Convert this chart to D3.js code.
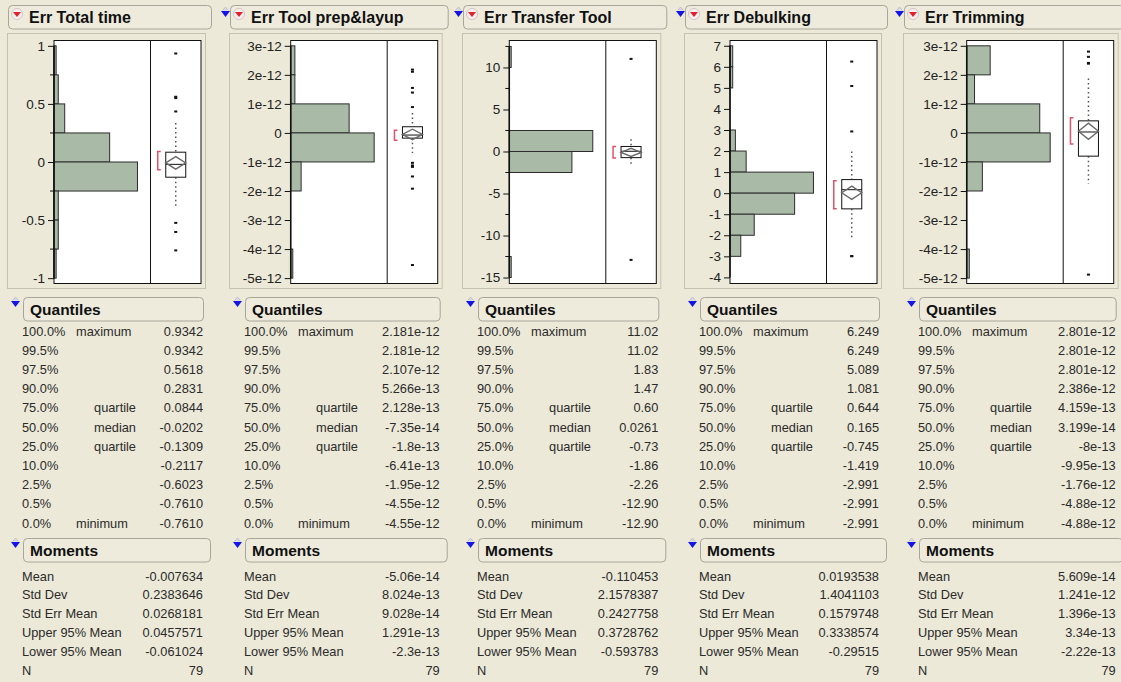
<!DOCTYPE html>
<html>
<head>
<meta charset="utf-8">
<script src="https://cdn.jsdelivr.net/npm/d3@7"></script>
<style>
  body { margin: 0; background: #ECE9D8; }
  svg { display: block; font-family: "Liberation Sans", Arial, sans-serif; }
  .tick text { font-size: 13.5px; fill: #222; }
  .tick line { stroke: #111; }
  .row { font-size: 12.8px; fill: #2b2b2b; }
  .ttl { font-size: 16px; font-weight: bold; fill: #111; }
  .hdr { font-size: 15.5px; font-weight: bold; fill: #111; }
</style>
</head>
<body>
<div id="chart"></div>
<script>
// ---- data ----
var titles = ["Err Total time", "Err Tool prep&layup", "Err Transfer Tool", "Err Debulking", "Err Trimming"];

var quantPct = ["100.0%", "99.5%", "97.5%", "90.0%", "75.0%", "50.0%", "25.0%", "10.0%", "2.5%", "0.5%", "0.0%"];
var quantName = ["maximum", "", "", "", "quartile", "median", "quartile", "", "", "", "minimum"];
var quantVals = [
  ["0.9342", "0.9342", "0.5618", "0.2831", "0.0844", "-0.0202", "-0.1309", "-0.2117", "-0.6023", "-0.7610", "-0.7610"],
  ["2.181e-12", "2.181e-12", "2.107e-12", "5.266e-13", "2.128e-13", "-7.35e-14", "-1.8e-13", "-6.41e-13", "-1.95e-12", "-4.55e-12", "-4.55e-12"],
  ["11.02", "11.02", "1.83", "1.47", "0.60", "0.0261", "-0.73", "-1.86", "-2.26", "-12.90", "-12.90"],
  ["6.249", "6.249", "5.089", "1.081", "0.644", "0.165", "-0.745", "-1.419", "-2.991", "-2.991", "-2.991"],
  ["2.801e-12", "2.801e-12", "2.801e-12", "2.386e-12", "4.159e-13", "3.199e-14", "-8e-13", "-9.95e-13", "-1.76e-12", "-4.88e-12", "-4.88e-12"]
];

var momentNames = ["Mean", "Std Dev", "Std Err Mean", "Upper 95% Mean", "Lower 95% Mean", "N"];
var momentVals = [
  ["-0.007634", "0.2383646", "0.0268181", "0.0457571", "-0.061024", "79"],
  ["-5.06e-14", "8.024e-13", "9.028e-14", "1.291e-13", "-2.3e-13", "79"],
  ["-0.110453", "2.1578387", "0.2427758", "0.3728762", "-0.593783", "79"],
  ["0.0193538", "1.4041103", "0.1579748", "0.3338574", "-0.29515", "79"],
  ["5.609e-14", "1.241e-12", "1.396e-13", "3.34e-13", "-2.22e-13", "79"]
];

// histogram: top edge of first bin, bin width, counts going downward
var binTop = [1, 3e-12, 12.5, 7, 3e-12];
var binWidth = [0.25, 1e-12, 2.5, 1, 1e-12];
var binCounts = [
  [1, 2, 5, 26, 39, 2, 2, 1],
  [2, 2, 28, 40, 5, 0, 0, 1],
  [1, 0, 0, 0, 44, 33, 0, 0, 0, 0, 1],
  [1, 1, 0, 0, 2, 6, 31, 24, 9, 4],
  [9, 3, 28, 32, 6, 0, 0, 1]
];

// outlier box plot pieces
var whiskers = [[0.335, -0.383], [0.685e-12, -0.69e-12], [1.47, -1.70], [1.98, -2.13], [1.87e-12, -1.75e-12]];
var shortHalf = [[0.09, -0.067], [0.09e-12, -0.25e-12], [0.6, -0.78], [0.59, -0.74], [0.52e-12, -0.38e-12]];
var outliers = [
  [0.9342, 0.5618, 0.55, 0.435, -0.524, -0.6023, -0.761],
  [2.181e-12, 2.107e-12, 1.55e-12, 1.39e-12, 0.89e-12, -1.03e-12, -1.12e-12, -1.17e-12, -1.5e-12, -1.92e-12, -4.55e-12],
  [11.02, -12.90],
  [6.249, 5.089, 2.93, -2.991, -2.991],
  [2.801e-12, 2.62e-12, 2.41e-12, 2.386e-12, -4.88e-12]
];

// axes
var yDomain = [[-1.046, 1.046], [-5.186e-12, 3.183e-12], [-15.71, 13.21], [-4.29, 7.25], [-5.186e-12, 3.183e-12]];
var yTicks = [
  [-1, -0.5, 0, 0.5, 1],
  [-5e-12, -4e-12, -3e-12, -2e-12, -1e-12, 0, 1e-12, 2e-12, 3e-12],
  [-15, -10, -5, 0, 5, 10],
  [-4, -3, -2, -1, 0, 1, 2, 3, 4, 5, 6, 7],
  [-5e-12, -4e-12, -3e-12, -2e-12, -1e-12, 0, 1e-12, 2e-12, 3e-12]
];
var yMinor = [[-0.75, -0.25, 0.25, 0.75], [], [-12.5, -7.5, -2.5, 2.5, 7.5, 12.5], [], []];

// ---- layout ----
var W = 1121, H = 682;
var colX = [8, 230, 463, 685, 904];
var axisGap = [46, 60.7, 46.3, 45, 62.7];
var plotW = 147, histW = 96.5;
var plotTop = 40.5, plotBottom = 283.5;

var svg = d3.select("#chart").append("svg").attr("width", W).attr("height", H);
svg.append("rect").attr("width", W).attr("height", H).attr("fill", "#ECE9D8");

function fmtTick(i) {
  if (i == 1 || i == 4) {
    return function (d) { return d === 0 ? "0" : Math.round(d * 1e12) + "e-12"; };
  }
  return function (d) { return String(+d.toFixed(4)); };
}

// blue disclosure triangle
function blueTri(g, x, y) {
  g.append("path")
    .attr("d", `M${x},${y} L${x + 9},${y} L${x + 4.5},${y + 6} Z`)
    .attr("fill", "#1414E6");
  g.append("path")
    .attr("d", `M${x + 1.5},${y - 0.5} L${x + 4.5},${y - 4} L${x + 7.5},${y - 0.5}`)
    .attr("fill", "#d6d6e6").attr("stroke", "#b0b0c0").attr("stroke-width", 0.6);
}

function headerBox(g, x, y, w) {
  g.append("rect").attr("x", x).attr("y", y).attr("width", w).attr("height", 23.5)
    .attr("rx", 4).attr("fill", "#EEEBDD").attr("stroke", "#A8A699");
}

titles.forEach(function (title, i) {
  var x0 = colX[i];
  var plotL = x0 + axisGap[i];
  var plotR = plotL + plotW;
  var divX = plotL + histW;
  var g = svg.append("g");

  // title bar
  if (i > 0) blueTri(g, x0 - 9, 11);
  headerBox(g, x0 + 0.5, 5.5, plotR + 10 - x0);
  g.append("circle").attr("cx", x0 + 9).attr("cy", 14).attr("r", 5.5)
    .attr("fill", "#F7EFEF").attr("stroke", "#C9B9B9").attr("stroke-width", 0.8);
  g.append("path").attr("d", `M${x0 + 5},12 L${x0 + 13},12 L${x0 + 9},17 Z`).attr("fill", "#E3202C");
  g.append("text").attr("class", "ttl").attr("x", x0 + 21).attr("y", 23).text(title);

  // frame + plot background
  g.append("rect").attr("x", x0 - 0.5).attr("y", 33.5).attr("width", plotR + 5 - x0).attr("height", 255)
    .attr("fill", "#ECE9D8").attr("stroke", "#C6C2AF");
  g.append("rect").attr("x", plotL).attr("y", plotTop).attr("width", plotW).attr("height", plotBottom - plotTop)
    .attr("fill", "#fff");

  var y = d3.scaleLinear().domain(yDomain[i]).range([plotBottom, plotTop]);
  var counts = binCounts[i];
  var xc = d3.scaleLinear().domain([0, d3.max(counts) / 0.865]).range([0, histW]);

  // histogram bars
  var bins = counts.map(function (c, k) {
    var hi = binTop[i] - k * binWidth[i];
    return { hi: hi, lo: hi - binWidth[i], n: c };
  }).filter(d => d.n > 0);

  g.selectAll(".bar").data(bins).enter().append("rect")
    .attr("x", plotL)
    .attr("y", d => y(d.hi))
    .attr("width", d => xc(d.n))
    .attr("height", d => y(d.lo) - y(d.hi))
    .attr("fill", "#A9BBA7").attr("stroke", "#2c2c2c").attr("stroke-width", 1);

  // plot border and divider
  g.append("rect").attr("x", plotL).attr("y", plotTop).attr("width", plotW).attr("height", plotBottom - plotTop)
    .attr("fill", "none").attr("stroke", "#111");
  g.append("line").attr("x1", divX).attr("x2", divX).attr("y1", plotTop).attr("y2", plotBottom).attr("stroke", "#111");

  // axis
  var axis = d3.axisLeft(y).tickValues(yTicks[i]).tickFormat(fmtTick(i)).tickSize(6).tickSizeOuter(0).tickPadding(3);
  var ag = g.append("g").attr("transform", `translate(${plotL},0)`).call(axis);
  ag.select(".domain").remove();
  var ext = d3.extent(yTicks[i].concat(yMinor[i]));
  ag.append("line").attr("x1", 0).attr("x2", 0).attr("y1", y(ext[0])).attr("y2", y(ext[1]))
    .attr("stroke", "#111").attr("stroke-width", 1.5);
  ag.selectAll(".minor").data(yMinor[i]).enter().append("line")
    .attr("x1", -4).attr("x2", 0).attr("y1", d => y(d)).attr("y2", d => y(d)).attr("stroke", "#111");

  // box plot
  var q = quantVals[i].map(Number), m = momentVals[i].map(Number);
  var q3 = q[4], med = q[5], q1 = q[6];
  var mean = m[0], ciU = m[3], ciL = m[4];
  var cx = divX + (plotR - divX) / 2, bw = 10;

  g.append("line").attr("x1", cx).attr("x2", cx).attr("y1", y(whiskers[i][0])).attr("y2", y(q3))
    .attr("stroke", "#555").attr("stroke-width", 1.5).attr("stroke-dasharray", "1.5,3");
  g.append("line").attr("x1", cx).attr("x2", cx).attr("y1", y(q1)).attr("y2", y(whiskers[i][1]))
    .attr("stroke", "#555").attr("stroke-width", 1.5).attr("stroke-dasharray", "1.5,3");
  g.append("rect").attr("x", cx - bw).attr("y", y(q3)).attr("width", bw * 2).attr("height", y(q1) - y(q3))
    .attr("fill", "#fff").attr("stroke", "#111");
  g.append("line").attr("x1", cx - bw).attr("x2", cx + bw).attr("y1", y(med)).attr("y2", y(med)).attr("stroke", "#111");
  g.append("path")
    .attr("d", `M${cx - bw},${y(mean)} L${cx},${y(ciU)} L${cx + bw},${y(mean)} L${cx},${y(ciL)} Z`)
    .attr("fill", "none").attr("stroke", "#6a6a6a").attr("stroke-width", 1.4);

  g.selectAll(".out").data(outliers[i]).enter().append("rect")
    .attr("x", cx - 1.5).attr("y", d => y(d) - 1).attr("width", 3).attr("height", 2).attr("fill", "#111");

  // shortest half bracket
  var bx = cx - bw - 8, s0 = y(shortHalf[i][0]), s1 = y(shortHalf[i][1]);
  g.append("path").attr("d", `M${bx + 3},${s0} L${bx},${s0} L${bx},${s1} L${bx + 3},${s1}`)
    .attr("fill", "none").attr("stroke", "#E4506B").attr("stroke-width", 1.5);

  // Quantiles table
  blueTri(g, x0 + 3, 301);
  headerBox(g, x0 + 15.5, 297.5, plotR + 2 - x0 - 15);
  g.append("text").attr("class", "hdr").attr("x", x0 + 22).attr("y", 314.5).text("Quantiles");

  quantPct.forEach(function (p, k) {
    var ty = 335.5 + 19.2 * k;
    g.append("text").attr("class", "row").attr("x", x0 + 14).attr("y", ty).text(p);
    var nm = quantName[k];
    if (nm) {
      var right = (nm == "quartile" || nm == "median");
      g.append("text").attr("class", "row").attr("x", right ? x0 + 128 : x0 + 68).attr("y", ty)
        .attr("text-anchor", right ? "end" : "start").text(nm);
    }
    g.append("text").attr("class", "row").attr("x", plotR + 2).attr("y", ty).attr("text-anchor", "end")
      .text(quantVals[i][k]);
  });

  // Moments table
  blueTri(g, x0 + 3, 542);
  headerBox(g, x0 + 15.5, 538.5, plotR + 9 - x0 - 15);
  g.append("text").attr("class", "hdr").attr("x", x0 + 22).attr("y", 555.5).text("Moments");

  momentNames.forEach(function (nm, k) {
    var ty = 580.5 + 18.8 * k;
    g.append("text").attr("class", "row").attr("x", x0 + 14).attr("y", ty).text(nm);
    g.append("text").attr("class", "row").attr("x", plotR + 2).attr("y", ty).attr("text-anchor", "end")
      .text(momentVals[i][k]);
  });
});
</script>
</body>
</html>
